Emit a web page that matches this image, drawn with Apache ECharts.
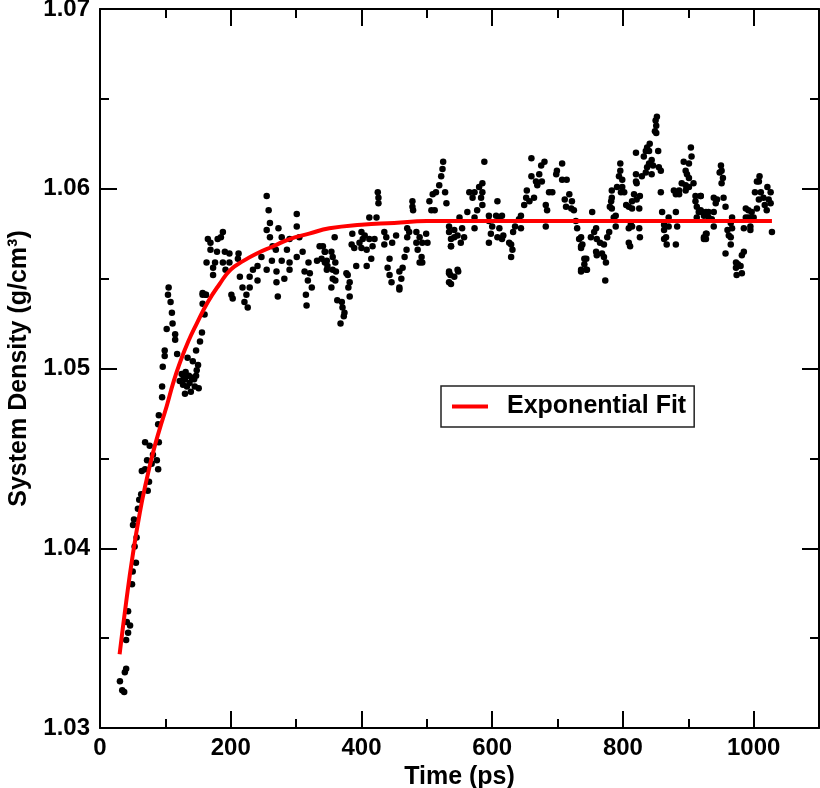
<!DOCTYPE html>
<html><head><meta charset="utf-8">
<script src="https://cdn.jsdelivr.net/npm/echarts@6/dist/echarts.min.js"></script>
<style>html,body{margin:0;padding:0;background:#fff}#c{width:820px;height:788px}</style>
</head><body><div id="c"></div>
<script>
// Simulation samples: [time (ps), density (g/cm3)]
const riseSamples = [
[30.5,1.0326],[34,1.0321],[37,1.0320],[38,1.0331],[40,1.0333],[40,1.0349],[43,1.0353],[46,1.0357],[41,1.0359],[43,1.0365],
[49,1.0380],[50,1.0387],[55,1.0392],[53,1.0401],[56,1.0406],[50.5,1.0413],[52,1.0416],[58,1.0422],[60,1.0427],[63,1.0430],
[73,1.0432],[75,1.0437],[64,1.0443],[69,1.0444],[72,1.0449],[79,1.0447],[87,1.0449],[89,1.0444],[81,1.0452],[69,1.0459],
[76,1.0457],[90,1.0459],[89,1.0469],[90,1.0474],[95,1.0484],[95,1.0490],[96,1.0501],[99,1.0507],[99,1.0510],[102,1.0522],
[111,1.0525],[110,1.0531],[108,1.0537],[104,1.0541],[105,1.0545],[115,1.0519],[115,1.0516],[118,1.0508],[125,1.0497],[122,1.0493],
[130,1.0494],[127,1.0491],[133,1.0490],[137,1.0492],[144,1.0494],[140,1.0495],[148,1.0499],[142,1.0504],[134,1.0506],[150,1.0502],
[151,1.0489],[130,1.0486],[147,1.0510],[153,1.0515],[156,1.0520],[160,1.0530],[157,1.0536],[162,1.0541],[157,1.0541],[131,1.0498],
[136,1.0496],[139,1.0487],[145,1.0490],[128,1.0495],[147,1.0496]
];
const earlySamples = [
[255,1.0596],[258,1.0588],[301,1.0586],[260,1.0581],[273,1.0578],[301,1.0579],[255,1.0577],[188,1.0576],[185,1.0573],[180,1.0572],
[165,1.0572],[169,1.0570],[260,1.0573],[278,1.0573],[290,1.0572],[305,1.0573],[169,1.0566],[179,1.0565],[191,1.0565],[198,1.0564],
[212,1.0564],[269,1.0566],[264,1.0568],[286,1.0566],[310,1.0565],[336,1.0568],[344,1.0565],[163,1.0559],[176,1.0559],[188,1.0559],
[198,1.0559],[211,1.0561],[247,1.0562],[263,1.0560],[278,1.0560],[290,1.0559],[301,1.0562],[319,1.0559],[332,1.0560],[347,1.0560],
[173,1.0556],[192,1.0555],[234,1.0555],[241,1.0557],[255,1.0555],[270,1.0554],[290,1.0555],[313,1.0554],[321,1.0553],[173,1.0552],
[214,1.0551],[229,1.0551],[241,1.0549],[282,1.0550],[318,1.0549],[157,1.0542],[162,1.0541],[201,1.0541],[218,1.0545],[229,1.0545],
[224,1.0541],[270,1.0548],[324,1.0545],[315,1.0541],[203,1.0539],[221,1.0537],[226,1.0534],[272,1.0540],[316,1.0535]
];
const midSamples = [
[525,1.0615],[524,1.0611],[522,1.0607],[519,1.0602],[514,1.0598],[509,1.0597],[504,1.0593],[528,1.0598],[530,1.0592],[512,1.0588],
[507,1.0588],[425,1.0598],[426,1.0595],[426,1.0592],[478,1.0593],[478,1.0590],[479,1.0588],[412,1.0584],[423,1.0584],[359,1.0573],
[386,1.0575],[400,1.0576],[405,1.0574],[402,1.0572],[412,1.0572],[397,1.0570],[420,1.0572],[435,1.0576],[438,1.0573],[453,1.0574],
[447,1.0570],[470,1.0578],[473,1.0576],[484,1.0576],[489,1.0573],[470,1.0573],[499,1.0575],[501,1.0570],[493,1.0570],[484,1.0570],
[385,1.0569],[389,1.0567],[400,1.0567],[408,1.0566],[417,1.0568],[341,1.0568],[344,1.0565],[354,1.0565],[339,1.0561],[344,1.0559],
[356,1.0562],[360,1.0559],[348,1.0557],[356,1.0555],[361,1.0554],[347,1.0555],[377,1.0553],[379,1.0552],[356,1.0550],[360,1.0549],
[382,1.0548],[354,1.0545],[380,1.0545],[382,1.0540],[363,1.0538],[370,1.0537],[371,1.0534],[374,1.0531],[373,1.0529],[368,1.0525],
[392,1.0557],[408,1.0557],[415,1.0561],[435,1.0569],[443,1.0561],[440,1.0556],[443,1.0552],[446,1.0548],[458,1.0554],[461,1.0550],
[458,1.0545],[458,1.0544],[463,1.0556],[466,1.0562],[469,1.0566],[486,1.0566],[492,1.0562],[493,1.0559],[489,1.0559],[534,1.0576],
[542,1.0573],[537,1.0568],[534,1.0554],[536,1.0552],[534,1.0548],[547,1.0555]
];
const lateSamples = [
[588,1.0615],[660,1.0617],[675,1.0613],[680,1.0615],[707,1.0614],[699,1.0610],[698,1.0608],[707,1.0605],[714,1.0605],[660,1.0607],
[672,1.0608],[667,1.0604],[676,1.0604],[669,1.0602],[585,1.0603],[580,1.0601],[565,1.0598],[573,1.0598],[585,1.0598],[570,1.0595],
[608,1.0593],[583,1.0595],[585,1.0591],[577,1.0588],[653,1.0599],[652,1.0595],[664,1.0595],[657,1.0593],[649,1.0591],[687,1.0598],
[692,1.0598],[682,1.0591],[684,1.0588],[718,1.0597],[711,1.0594],[722,1.0593],[713,1.0590],[721,1.0589],[725,1.0588],[562,1.0587],
[595,1.0585],[606,1.0585],[615,1.0585],[644,1.0585],[550,1.0584],[573,1.0584],[595,1.0582],[611,1.0583],[641,1.0583],[534,1.0579],
[542,1.0577],[554,1.0578],[573,1.0578],[600,1.0579],[611,1.0578],[635,1.0579],[644,1.0578],[682,1.0579],[728,1.0582],[730,1.0578],
[547,1.0574],[557,1.0573],[598,1.0575],[608,1.0573],[617,1.0574],[632,1.0576],[537,1.0572],[552,1.0570],[595,1.0570],[615,1.0572],
[626,1.0570],[629,1.0569],[537,1.0568],[631,1.0566],[629,1.0562],[733,1.0572],[736,1.0568],[741,1.0561],[736,1.0555],[744,1.0555],
[534,1.0553],[542,1.0551],[548,1.0554],[537,1.0547]
];
const peakSamples = [
[852,1.0640],[850,1.0638],[851,1.0635],[849,1.0632],[851,1.0631],[841,1.0625],[837,1.0623],[835,1.0621],[840,1.0621],[854,1.0621],
[820,1.0620],[832,1.0618],[844,1.0616],[840,1.0614],[846,1.0613],[855,1.0612],[858,1.0610],[837,1.0612],[835,1.0609],[829,1.0607],
[820,1.0608],[844,1.0608],[904,1.0623],[905,1.0618],[893,1.0615],[901,1.0614],[896,1.0610],[898,1.0608],[901,1.0606],[890,1.0603],
[896,1.0602],[901,1.0601],[908,1.0603],[886,1.0599],[878,1.0599],[881,1.0597],[886,1.0597],[896,1.0599],[911,1.0596],[919,1.0596],
[911,1.0593],[913,1.0590],[916,1.0587],[913,1.0584],[924,1.0585],[927,1.0587],[928,1.0575],[924,1.0573],[927,1.0572],[796,1.0614],
[796,1.0610],[794,1.0607],[799,1.0605],[791,1.0601],[799,1.0601],[802,1.0598],[797,1.0598],[783,1.0599],[783,1.0595],[782,1.0593],
[780,1.0590],[783,1.0589],[789,1.0585],[786,1.0584],[820,1.0604],[821,1.0603],[817,1.0597],[826,1.0596],[821,1.0594],[814,1.0593],
[805,1.0591],[809,1.0590],[814,1.0589],[825,1.0589],[753,1.0587],[858,1.0598],[860,1.0587],[881,1.0587],[870,1.0584],[883,1.0579],
[870,1.0579],[863,1.0580],[863,1.0577],[866,1.0573],[863,1.0572],[867,1.0569],[881,1.0569],[812,1.0580],[809,1.0578],[814,1.0579],
[825,1.0578],[809,1.0570],[811,1.0568],[826,1.0573],[789,1.0579],[779,1.0576],[776,1.0573],[759,1.0578],[756,1.0576],[751,1.0573],
[760,1.0572],[765,1.0570],[771,1.0569],[736,1.0573],[738,1.0569],[736,1.0567],[759,1.0565],[760,1.0563],[768,1.0564],[771,1.0562],
[744,1.0561],[741,1.0558],[745,1.0555],[736,1.0554],[774,1.0559],[773,1.0549]
];
const endSamples = [
[950,1.0613],[951,1.0610],[948,1.0609],[953,1.0606],[951,1.0603],[919,1.0596],[939,1.0595],[944,1.0594],[942,1.0592],[954,1.0595],
[957,1.0590],[919,1.0588],[921,1.0587],[931,1.0587],[939,1.0587],[931,1.0584],[936,1.0583],[939,1.0579],[967,1.0584],[965,1.0581],
[967,1.0578],[960,1.0577],[962,1.0574],[965,1.0573],[927,1.0575],[924,1.0572],[965,1.0569],[957,1.0564],[982,1.0563],[985,1.0565],
[973,1.0559],[976,1.0558],[973,1.0556],[980,1.0557],[974,1.0552],[982,1.0553],[988,1.0589],[992,1.0588],[997,1.0587],[1005,1.0589],
[992,1.0584],[1000,1.0584],[988,1.0584],[985,1.0578],[995,1.0579],[995,1.0577],[1009,1.0607],[1005,1.0604],[1008,1.0604],[1021,1.0601],
[1002,1.0598],[1011,1.0598],[1026,1.0598],[1015,1.0595],[1023,1.0594],[1008,1.0594],[1026,1.0592],[1017,1.0591],[1020,1.0588],[1028,1.0576]
];
// Exponential fit curve
const fitTimes = [30, 40, 50, 61, 70, 81, 91, 102, 112, 122, 135, 148, 165, 183, 200, 220, 240, 265, 290, 320, 351, 400, 450, 500, 600, 700, 800, 900, 1028];
const fitDensities = [1.0341, 1.0370, 1.0396, 1.0420, 1.0436, 1.0453, 1.0466, 1.0479, 1.0492, 1.0503, 1.0515, 1.0525, 1.0537, 1.0547, 1.0555, 1.0560, 1.0564, 1.0568, 1.0572, 1.0575, 1.0578, 1.0580, 1.0581, 1.0582, 1.0582, 1.0582, 1.0582, 1.0582, 1.0582];

const FONT = '"Liberation Sans", Arial, Helvetica, sans-serif';
const scatterData = [].concat(riseSamples, earlySamples, midSamples, lateSamples, peakSamples, endSamples);
const fitData = fitTimes.map((t, i) => [t, fitDensities[i]]);

const axisColor = '#000';
function xAxisDef(pos, interval, len, withLine, labels) {
  return {
    type: 'value', min: 0, max: 1100, interval: interval, position: pos, gridIndex: 0,
    axisLine: {show: withLine, onZero: false, lineStyle: {color: axisColor, width: 2}},
    axisTick: {show: true, inside: true, length: len, lineStyle: {color: axisColor, width: 2}},
    axisLabel: {show: labels, showMaxLabel: false, fontSize: 24, fontWeight: 'bold', color: '#000', fontFamily: FONT, margin: 8,
      formatter: v => String(Math.round(v))},
    splitLine: {show: false}
  };
}
const xMain = xAxisDef('bottom', 200, 17, true, true);
xMain.name = 'Time (ps)';
xMain.nameLocation = 'middle';
xMain.nameGap = 36;
xMain.nameTextStyle = {fontSize: 25, fontWeight: 'bold', color: '#000', fontFamily: FONT};

function yAxisDef(pos, labels) {
  return {
    type: 'value', min: 1.03, max: 1.07, interval: 0.01, position: pos, gridIndex: 0,
    axisLine: {show: true, onZero: false, lineStyle: {color: axisColor, width: 2}},
    axisTick: {show: true, inside: true, length: 17, lineStyle: {color: axisColor, width: 2}},
    minorTick: {show: true, splitNumber: 2, length: 9, lineStyle: {color: axisColor, width: 2}},
    axisLabel: {show: labels, fontSize: 24, fontWeight: 'bold', color: '#000', fontFamily: FONT, margin: 10,
      formatter: v => v.toFixed(2)},
    splitLine: {show: false}, minorSplitLine: {show: false}
  };
}
const yMain = yAxisDef('left', true);
yMain.name = 'System Density (g/cm³)';
yMain.nameLocation = 'middle';
yMain.nameGap = 68;
yMain.nameTextStyle = {fontSize: 25, fontWeight: 'bold', color: '#000', fontFamily: FONT};

const chart = echarts.init(document.getElementById('c'), null, {renderer: 'canvas'});
chart.setOption({
  animation: false,
  backgroundColor: '#fff',
  grid: {left: 100, right: 1, top: 9, bottom: 60, containLabel: false, outerBoundsMode: 'none'},
  xAxis: [
    xMain,
    xAxisDef('bottom', 100, 9, false, false),
    xAxisDef('top', 200, 17, true, false),
    xAxisDef('top', 100, 9, false, false)
  ],
  yAxis: [yMain, yAxisDef('right', false)],
  legend: {
    data: ['Exponential Fit'],
    left: 441, top: 386,
    orient: 'horizontal',
    padding: [8, 8, 8, 11],
    borderColor: '#222', borderWidth: 1.5,
    backgroundColor: '#fff',
    icon: 'rect', itemWidth: 36, itemHeight: 4,
    textStyle: {fontSize: 25, fontWeight: 'bold', color: '#000', fontFamily: FONT, padding: [0, 0, 0, 14]}
  },
  series: [
    {
      name: 'Density', type: 'scatter', xAxisIndex: 0, yAxisIndex: 0,
      data: scatterData, symbol: 'circle', symbolSize: 6.5,
      itemStyle: {color: '#000', opacity: 1}, z: 2
    },
    {
      name: 'Exponential Fit', type: 'line', xAxisIndex: 0, yAxisIndex: 0,
      data: fitData, smooth: 0.5, showSymbol: false, symbol: 'none',
      lineStyle: {color: '#ff0000', width: 4}, itemStyle: {color: '#ff0000'}, z: 3
    }
  ]
});
</script>
</body></html>
